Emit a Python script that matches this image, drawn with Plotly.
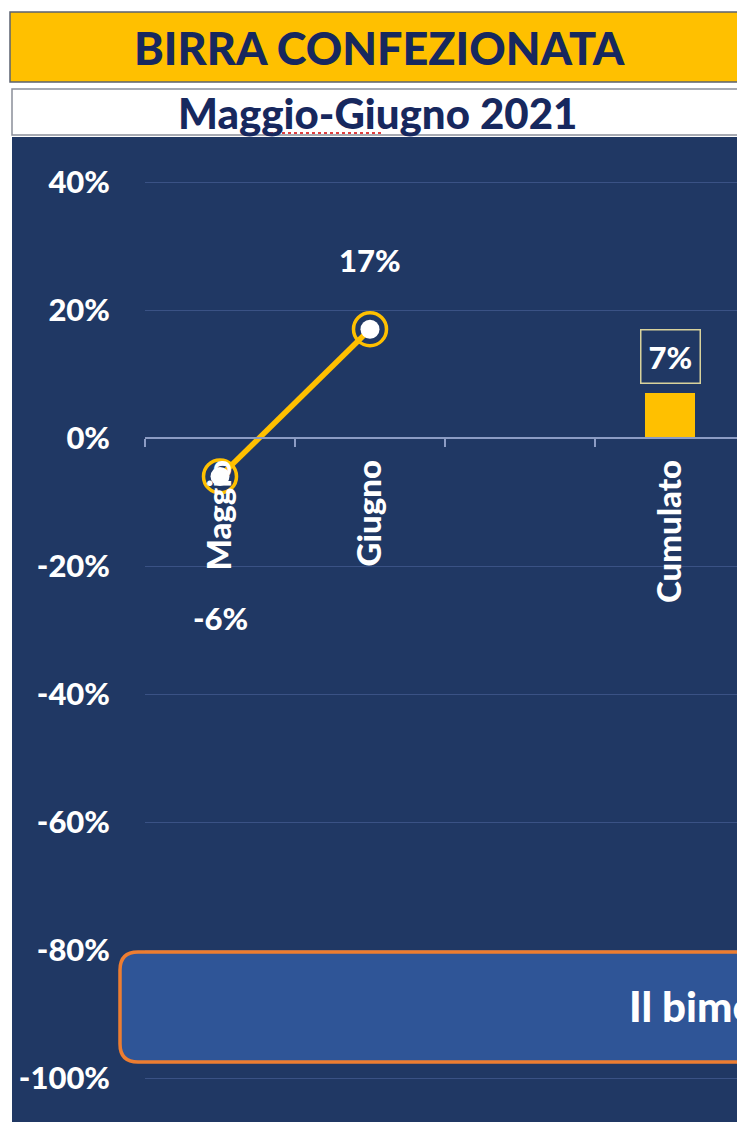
import plotly.graph_objects as go

# ---- data ----
categories = ["Maggio", "Giugno", " ", "Cumulato"]
months = ["Maggio", "Giugno"]
monthly_change = [-0.06, 0.17]
cumulative_label = ["Cumulato"]
cumulative_change = [0.07]
y_tickvals = [-1.0, -0.8, -0.6, -0.4, -0.2, 0.0, 0.2, 0.4]
y_ticktext = ["-100%", "-80%", "-60%", "-40%", "-20%", "0%", "20%", "40%"]

title_text = "BIRRA CONFEZIONATA"
subtitle_text = "Maggio-Giugno 2021"
note_text = "Il bimestre chiude in positivo"

# ---- style ----
W, H = 737, 1122
L, R, T, B = 145, 0, 137, 0
PW, PH = W - L - R, H - T - B
ZERO_Y = 438          # pixel row of the 0% line
PX_PER_UNIT = 640     # pixels per 100 percentage points
NAVY = "#203864"
GOLD = "#FFC000"
GRID = "#3A5285"
AXIS = "#8C9CC4"
FONT = "Lato"
HEAVY = 900


def px(x):
    return (x - L) / PW


def py(y):
    return (H - B - y) / PH


def rounded_rect(x0, y0, x1, y1, r):
    # path in paper coordinates built from pixel corners
    pts = [
        f"M {px(x0 + r)} {py(y0)}",
        f"L {px(x1 - r)} {py(y0)}",
        f"Q {px(x1)} {py(y0)} {px(x1)} {py(y0 + r)}",
        f"L {px(x1)} {py(y1 - r)}",
        f"Q {px(x1)} {py(y1)} {px(x1 - r)} {py(y1)}",
        f"L {px(x0 + r)} {py(y1)}",
        f"Q {px(x0)} {py(y1)} {px(x0)} {py(y1 - r)}",
        f"L {px(x0)} {py(y0 + r)}",
        f"Q {px(x0)} {py(y0)} {px(x0 + r)} {py(y0)}",
        "Z",
    ]
    return " ".join(pts)


fig = go.Figure()

fig.add_trace(go.Bar(
    x=cumulative_label, y=cumulative_change, width=0.333,
    marker=dict(color=GOLD, line=dict(width=0)),
    hoverinfo="skip", showlegend=False,
))
fig.add_trace(go.Scatter(
    x=months, y=monthly_change, mode="lines+markers",
    line=dict(color=GOLD, width=5.5),
    marker=dict(size=33, color="rgba(0,0,0,0)", line=dict(color=GOLD, width=3.5)),
    hoverinfo="skip", showlegend=False,
))
fig.add_trace(go.Scatter(
    x=months, y=monthly_change, mode="markers",
    marker=dict(size=19, color="white", line=dict(width=0)),
    hoverinfo="skip", showlegend=False,
))

label_font = dict(family=FONT, size=31, color="white", weight=HEAVY)
label_shift = {"Maggio": -142, "Giugno": 69}
annotations = []
for m, v in zip(months, monthly_change):
    annotations.append(dict(
        x=m, y=v, xref="x", yref="y", text=f"{v:.0%}", showarrow=False,
        yshift=label_shift[m], font=label_font,
    ))
for c, v in zip(cumulative_label, cumulative_change):
    annotations.append(dict(
        x=c, y=v, xref="x", yref="y", text=f"{v:.0%}", showarrow=False,
        yshift=37, font=label_font, bordercolor="#D8D29C", borderwidth=1.5,
        borderpad=7,
    ))

# header texts
annotations.append(dict(
    x=px(379), y=py(48), xref="paper", yref="paper", text=title_text,
    showarrow=False, xanchor="center", yanchor="middle",
    font=dict(family=FONT, size=45, color="#17285E", weight=HEAVY),
))
annotations.append(dict(
    x=px(377), y=py(113), xref="paper", yref="paper", text=subtitle_text,
    showarrow=False, xanchor="center", yanchor="middle",
    font=dict(family=FONT, size=42, color="#17285E", weight=HEAVY),
))
annotations.append(dict(
    x=px(627), y=py(1006), xref="paper", yref="paper", text=note_text,
    showarrow=False, xanchor="left", yanchor="middle",
    font=dict(family=FONT, size=42, color="white", weight=HEAVY),
))

shapes = [
    # dark chart panel
    dict(type="rect", xref="paper", yref="paper", x0=px(12), x1=px(800),
         y0=py(1130), y1=py(137), fillcolor=NAVY, line=dict(width=0),
         layer="below"),
    # title band
    dict(type="rect", xref="paper", yref="paper", x0=px(10), x1=px(800),
         y0=py(82), y1=py(12), fillcolor=GOLD,
         line=dict(color="#5B6270", width=1.5), layer="below"),
    # subtitle band
    dict(type="rect", xref="paper", yref="paper", x0=px(12), x1=px(800),
         y0=py(135), y1=py(89), fillcolor="white",
         line=dict(color="#8A8F99", width=1.5), layer="below"),
    # spell-check underline
    dict(type="line", xref="paper", yref="paper", x0=px(264), x1=px(382),
         y0=py(133), y1=py(133), line=dict(color="#E04040", width=2, dash="dot")),
    # comment callout
    dict(type="path", xref="paper", yref="paper",
         path=rounded_rect(120, 952, 800, 1062, 18),
         fillcolor="#2F5597", line=dict(color="#ED7D31", width=3.5),
         layer="above"),
]

zero_pos = py(ZERO_Y)

fig.update_layout(
    width=W, height=H,
    margin=dict(l=L, r=R, t=T, b=B, pad=0),
    paper_bgcolor="white", plot_bgcolor=NAVY,
    annotations=annotations, shapes=shapes,
    bargap=0, showlegend=False,
    xaxis=dict(
        type="category", categoryorder="array", categoryarray=categories,
        range=[-0.5, -0.5 + PW / 150], tickson="boundaries",
        anchor="free", position=zero_pos, showline=True, linecolor=AXIS,
        linewidth=1.5, ticks="outside", ticklen=8, tickwidth=1.5,
        tickcolor=AXIS, tickangle=-90, showgrid=False, zeroline=False,
        tickfont=dict(family=FONT, size=33, color="white", weight=HEAVY),
        ticklabelstandoff=8, fixedrange=True,
    ),
    yaxis=dict(
        range=[-(H - B - ZERO_Y) / PX_PER_UNIT, (ZERO_Y - T) / PX_PER_UNIT],
        tickvals=y_tickvals, ticktext=y_ticktext,
        showgrid=True, gridcolor=GRID, gridwidth=1, zeroline=False,
        showline=False, ticks="",
        tickfont=dict(family=FONT, size=31, color="white", weight=HEAVY),
        ticklabelstandoff=34, fixedrange=True,
    ),
)

fig.write_html("out.html")
